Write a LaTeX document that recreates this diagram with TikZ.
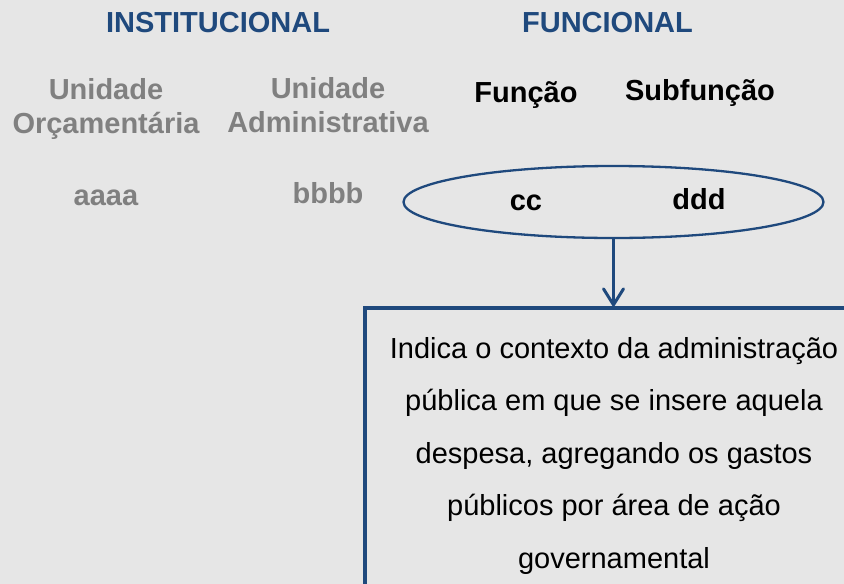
\documentclass[tikz,border=0pt]{standalone}
\usepackage{fontspec}
\setmainfont{Liberation Sans}
\usetikzlibrary{shapes.geometric,arrows.meta}
\definecolor{bg}{HTML}{E6E6E6}
\definecolor{navy}{HTML}{1F497D}
\definecolor{greytxt}{HTML}{808080}
\tikzset{
  txt/.style={font=\bfseries\fontsize{29}{34}\selectfont, anchor=base, inner sep=0pt, outer sep=0pt, align=center},
  hdr/.style={txt, text=navy},
  lbl/.style={txt, text=greytxt},
  blk/.style={txt, text=black},
  body/.style={font=\fontsize{29}{52.5}\selectfont, anchor=base, inner sep=0pt, align=center, text=black},
  ellbox/.style={draw=navy, line width=2.3pt, ellipse, minimum width=420pt, minimum height=72pt, inner sep=0pt},
  infobox/.style={draw=navy, line width=3.3pt, rectangle, fill=bg, minimum width=498pt, minimum height=294pt, inner sep=0pt},
  conn/.style={draw=navy, line width=3pt, -{Straight Barb[length=16pt,width=20pt,round]}},
}
\begin{document}
\begin{tikzpicture}[x=1pt,y=-1pt]
  \useasboundingbox (0,0) rectangle (844,584);
  \clip (0,0) rectangle (844,584);
  \fill[bg] (0,0) rectangle (844,584);

  \node[hdr] (inst) at (218,32) {INSTITUCIONAL};
  \node[hdr] (func) at (607.5,32) {FUNCIONAL};

  % multi-line nodes: base anchor is the baseline of the last line
  \node[lbl] (uo) at (106,133.3) {Unidade\\Orçamentária};
  \node[lbl] (ua) at (328,132.7) {Unidade\\Administrativa};
  \node[blk] (fn) at (526,102.7) {Função};
  \node[blk] (sf) at (700,100) {Subfunção};

  \node[lbl] (aaaa) at (106,205) {aaaa};
  \node[lbl] (bbbb) at (328,203) {bbbb};

  \node[ellbox] (ell) at (613.5,202) {};
  \node[blk] (cc) at (526,210) {cc};
  \node[blk] (ddd) at (699,209) {ddd};

  \node[infobox] (box) at (614,455) {};
  \node[body] (desc) at (614,568) {Indica o contexto da administração\\pública em que se insere aquela\\despesa, agregando os gastos\\públicos por área de ação\\governamental};

  \draw[conn] (ell.south) -- (ell.south |- box.north);
\end{tikzpicture}
\end{document}
